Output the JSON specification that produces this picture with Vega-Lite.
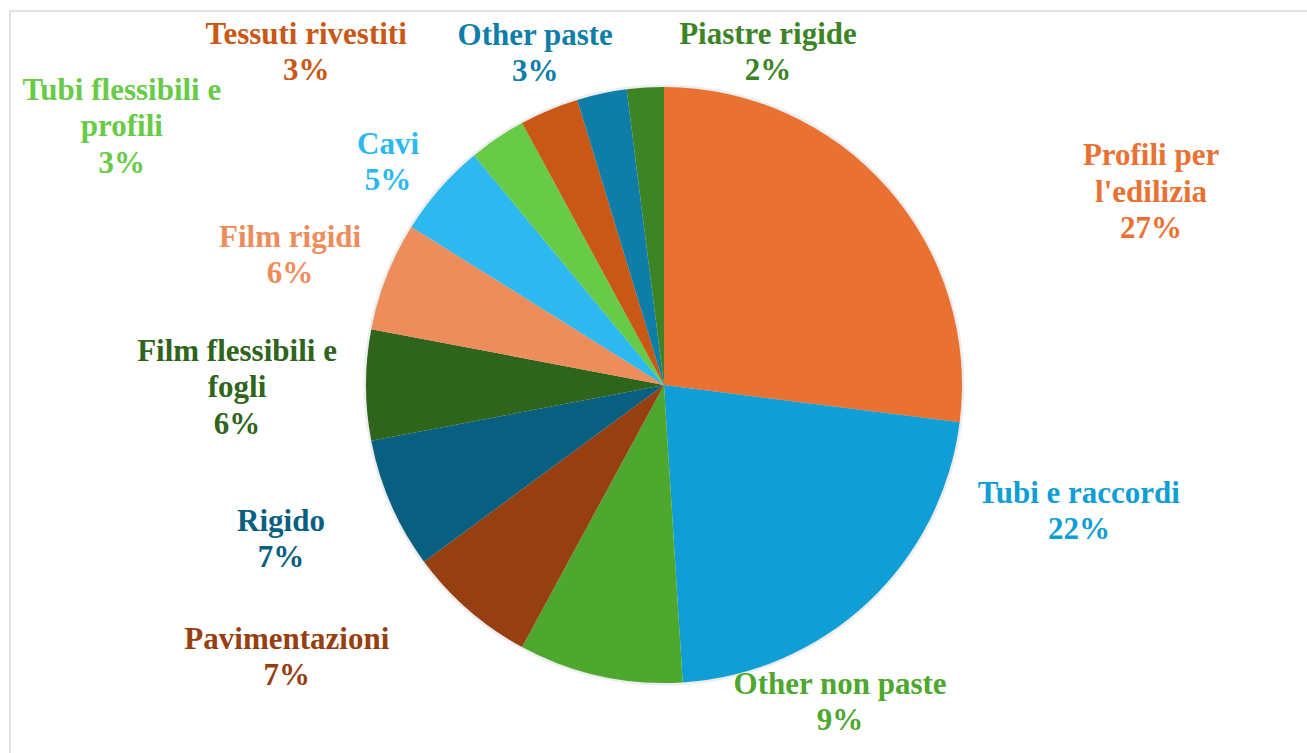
{
  "$schema": "https://vega.github.io/schema/vega-lite/v6.json",
  "width": 1308,
  "height": 748,
  "autosize": "none",
  "padding": {"left": 10, "top": 11, "right": 0, "bottom": 0},
  "background": "white",
  "config": {
    "view": {"stroke": null},
    "text": {"font": "Liberation Serif, Times New Roman, DejaVu Serif, serif"}
  },
  "layer": [
    {
      "data": {"values": [{"frame": 1}]},
      "mark": {"type": "rect", "fill": "transparent", "stroke": "#d9d9d9", "strokeWidth": 1.5},
      "encoding": {"x": {"value": 0}, "y": {"value": 0}, "x2": {"value": "width"}, "y2": {"value": "height"}}
    },
    {
      "data": {
        "values": [
          {"n": 1, "category": "Profili per l'edilizia", "value": 27.0, "label": "Profili per\nl'edilizia\n27%"},
          {"n": 2, "category": "Tubi e raccordi", "value": 22.0, "label": "Tubi e raccordi\n22%"},
          {"n": 3, "category": "Other non paste", "value": 8.9, "label": "Other non paste\n9%"},
          {"n": 4, "category": "Pavimentazioni", "value": 7.0, "label": "Pavimentazioni\n7%"},
          {"n": 5, "category": "Rigido", "value": 7.1, "label": "Rigido\n7%"},
          {"n": 6, "category": "Film flessibili e fogli", "value": 6.0, "label": "Film flessibili e\nfogli\n6%"},
          {"n": 7, "category": "Film rigidi", "value": 5.9, "label": "Film rigidi\n6%"},
          {"n": 8, "category": "Cavi", "value": 5.1, "label": "Cavi\n5%"},
          {"n": 9, "category": "Tubi flessibili e profili", "value": 3.1, "label": "Tubi flessibili e\nprofili\n3%"},
          {"n": 10, "category": "Tessuti rivestiti", "value": 3.2, "label": "Tessuti rivestiti\n3%"},
          {"n": 11, "category": "Other paste", "value": 2.7, "label": "Other paste\n3%"},
          {"n": 12, "category": "Piastre rigide", "value": 2.0, "label": "Piastre rigide\n2%"}
        ]
      },
      "encoding": {
        "theta": {"field": "value", "type": "quantitative", "stack": true},
        "order": {"field": "n", "type": "quantitative"},
        "color": {
          "field": "category",
          "type": "nominal",
          "legend": null,
          "scale": {
            "domain": ["Profili per l'edilizia", "Tubi e raccordi", "Other non paste", "Pavimentazioni", "Rigido", "Film flessibili e fogli", "Film rigidi", "Cavi", "Tubi flessibili e profili", "Tessuti rivestiti", "Other paste", "Piastre rigide"],
            "range": ["#E97132", "#0F9ED5", "#4EA72E", "#964012", "#095F80", "#2F641C", "#ED8D5B", "#2DB8EF", "#68CB47", "#C95716", "#0E7EA9", "#3D8427"]
          }
        }
      },
      "layer": [
        {"mark": {"type": "arc", "outerRadius": 300.5, "opacity": 0.07}, "encoding": {"color": {"value": "#000000"}}},
        {"mark": {"type": "arc", "outerRadius": 298}},
        {"mark": {"type": "text", "font": "Liberation Serif, Times New Roman, DejaVu Serif, serif", "radius": 330, "dx": 239.5, "dy": -10.5, "fontSize": 31, "fontWeight": "bold", "lineHeight": 36.5, "lineBreak": "\n", "align": "center", "baseline": "middle"},
         "encoding": {"text": {"condition": {"test": "datum.n === 1", "field": "label", "type": "nominal"}, "value": ""}}},
        {"mark": {"type": "text", "font": "Liberation Serif, Times New Roman, DejaVu Serif, serif", "radius": 330, "dx": 189, "dy": -131.85, "fontSize": 31, "fontWeight": "bold", "lineHeight": 36.5, "lineBreak": "\n", "align": "center", "baseline": "middle"},
         "encoding": {"text": {"condition": {"test": "datum.n === 2", "field": "label", "type": "nominal"}, "value": ""}}},
        {"mark": {"type": "text", "font": "Liberation Serif, Times New Roman, DejaVu Serif, serif", "radius": 330, "dx": 247, "dy": -22.55, "fontSize": 31, "fontWeight": "bold", "lineHeight": 36.5, "lineBreak": "\n", "align": "center", "baseline": "middle"},
         "encoding": {"text": {"condition": {"test": "datum.n === 3", "field": "label", "type": "nominal"}, "value": ""}}},
        {"mark": {"type": "text", "font": "Liberation Serif, Times New Roman, DejaVu Serif, serif", "radius": 330, "dx": -160.5, "dy": 5.75, "fontSize": 31, "fontWeight": "bold", "lineHeight": 36.5, "lineBreak": "\n", "align": "center", "baseline": "middle"},
         "encoding": {"text": {"condition": {"test": "datum.n === 4", "field": "label", "type": "nominal"}, "value": ""}}},
        {"mark": {"type": "text", "font": "Liberation Serif, Times New Roman, DejaVu Serif, serif", "radius": 330, "dx": -80.6, "dy": 4.75, "fontSize": 31, "fontWeight": "bold", "lineHeight": 36.5, "lineBreak": "\n", "align": "center", "baseline": "middle"},
         "encoding": {"text": {"condition": {"test": "datum.n === 5", "field": "label", "type": "nominal"}, "value": ""}}},
        {"mark": {"type": "text", "font": "Liberation Serif, Times New Roman, DejaVu Serif, serif", "radius": 330, "dx": -97, "dy": -33.5, "fontSize": 31, "fontWeight": "bold", "lineHeight": 36.5, "lineBreak": "\n", "align": "center", "baseline": "middle"},
         "encoding": {"text": {"condition": {"test": "datum.n === 6", "field": "label", "type": "nominal"}, "value": ""}}},
        {"mark": {"type": "text", "font": "Liberation Serif, Times New Roman, DejaVu Serif, serif", "radius": 330, "dx": -66.7, "dy": -26.85, "fontSize": 31, "fontWeight": "bold", "lineHeight": 36.5, "lineBreak": "\n", "align": "center", "baseline": "middle"},
         "encoding": {"text": {"condition": {"test": "datum.n === 7", "field": "label", "type": "nominal"}, "value": ""}}},
        {"mark": {"type": "text", "font": "Liberation Serif, Times New Roman, DejaVu Serif, serif", "radius": 330, "dx": -27.7, "dy": -22.85, "fontSize": 31, "fontWeight": "bold", "lineHeight": 36.5, "lineBreak": "\n", "align": "center", "baseline": "middle"},
         "encoding": {"text": {"condition": {"test": "datum.n === 8", "field": "label", "type": "nominal"}, "value": ""}}},
        {"mark": {"type": "text", "font": "Liberation Serif, Times New Roman, DejaVu Serif, serif", "radius": 330, "dx": -357.5, "dy": -20.9, "fontSize": 31, "fontWeight": "bold", "lineHeight": 36.5, "lineBreak": "\n", "align": "center", "baseline": "middle"},
         "encoding": {"text": {"condition": {"test": "datum.n === 9", "field": "label", "type": "nominal"}, "value": ""}}},
        {"mark": {"type": "text", "font": "Liberation Serif, Times New Roman, DejaVu Serif, serif", "radius": 330, "dx": -230.6, "dy": -45.85, "fontSize": 31, "fontWeight": "bold", "lineHeight": 36.5, "lineBreak": "\n", "align": "center", "baseline": "middle"},
         "encoding": {"text": {"condition": {"test": "datum.n === 10", "field": "label", "type": "nominal"}, "value": ""}}},
        {"mark": {"type": "text", "font": "Liberation Serif, Times New Roman, DejaVu Serif, serif", "radius": 330, "dx": -59.8, "dy": -26.55, "fontSize": 31, "fontWeight": "bold", "lineHeight": 36.5, "lineBreak": "\n", "align": "center", "baseline": "middle"},
         "encoding": {"text": {"condition": {"test": "datum.n === 11", "field": "label", "type": "nominal"}, "value": ""}}},
        {"mark": {"type": "text", "font": "Liberation Serif, Times New Roman, DejaVu Serif, serif", "radius": 330, "dx": 124.7, "dy": -20.95, "fontSize": 31, "fontWeight": "bold", "lineHeight": 36.5, "lineBreak": "\n", "align": "center", "baseline": "middle"},
         "encoding": {"text": {"condition": {"test": "datum.n === 12", "field": "label", "type": "nominal"}, "value": ""}}}
      ]
    }
  ]
}
